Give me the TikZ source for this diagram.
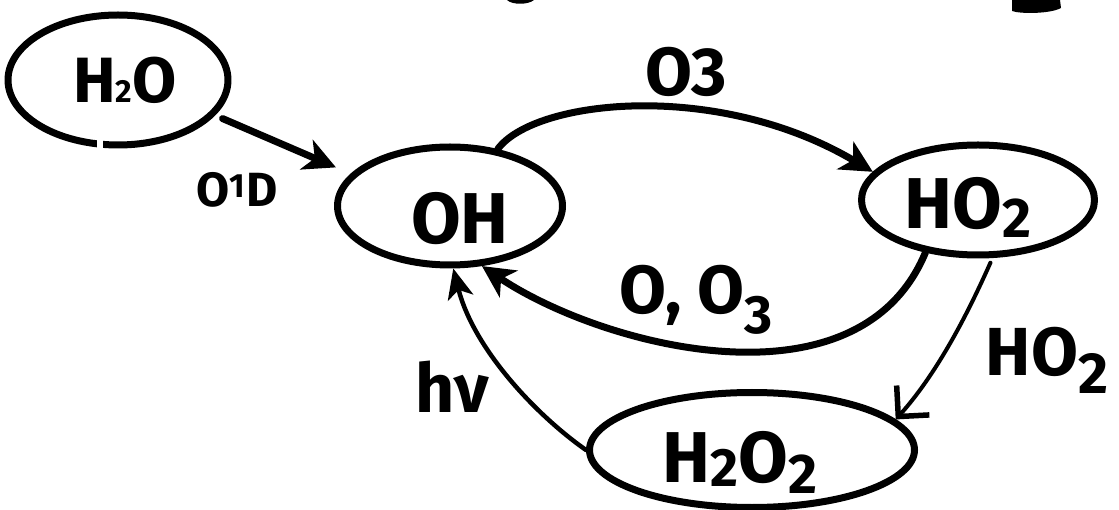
\documentclass[tikz,border=0pt]{standalone}
\usepackage{fontspec}
\setmainfont{Fira Sans}
\usetikzlibrary{shapes.geometric,arrows.meta}

% lowered, slightly reduced index for chemical formulas
\newcommand{\chemsub}[3]{\raisebox{-#2pt}{\fontsize{#1}{#1}\selectfont #3}}

\begin{document}
\begin{tikzpicture}[x=1pt,y=-1pt,line cap=round,line join=round,
  species/.style={draw, ellipse, line width=7pt, inner sep=0pt},
  formula/.style={inner sep=0pt, anchor=base, font=\bfseries\fontsize{72}{76}\selectfont},
  lbl/.style={inner sep=0pt, anchor=base, font=\bfseries\fontsize{68}{72}\selectfont},
  heavy arrow/.style={line width=7pt, -{Stealth[length=32pt,width=32pt,inset=9pt]}},
  light arrow/.style={line width=4.5pt, -{Stealth[length=30pt,width=26pt,inset=8pt]}},
  barb arrow/.style={line width=4pt, -{Straight Barb[length=22pt,width=44pt,line width=5.5pt]}}]

\fill[white] (0,0) rectangle (1119,510);
\useasboundingbox (0,0) rectangle (1119,510);

% species
\node[species, minimum width=220pt, minimum height=130pt] (h2o) at (118,80) {};
\node[species, minimum width=225pt, minimum height=118pt] (oh) at (450,206) {};
\node[species, minimum width=233pt, minimum height=110pt] (ho) at (978,200) {};
\node[species, minimum width=325pt, minimum height=115pt] (h2) at (752,450) {};

% pen lift in the water outline
\fill[white] (97,134) rectangle (103,153);

\node[formula, font=\bfseries\fontsize{64}{68}\selectfont] (h2o-t) at (125,103) {H\chemsub{32}{0}{2}O};
\node[formula] (oh-t) at (460,244) {OH};
\node[formula] (ho-t) at (968,229) {HO\chemsub{56}{9}{2}};
\node[formula] (h2-t) at (740,482) {H\chemsub{54}{4}{2}O\chemsub{56}{11}{2}};

% reactions
\draw[heavy arrow, shorten <=8pt, shorten >=16pt] (h2o.-20) -- (oh.162);
\draw[heavy arrow] (oh.50) .. controls +(37,-50) and +(-155,-92) .. (ho.165);
\draw[heavy arrow] (ho.225) .. controls +(-67,161) and +(121,81) .. (oh.-62);
\draw[barb arrow, shorten <=5pt] (ho.-76) .. controls +(-20,45) and +(45,-50) .. (h2.12);
\draw[light arrow] (h2.180) .. controls +(-50,-35) and +(20,80) .. (oh.-87);

% reactants and photolysis
\node[inner sep=0pt, anchor=base, font=\bfseries\fontsize{48}{52}\selectfont] (l-o1d) at (237,207) {O\textsuperscript{1}D};
\node[lbl] (l-o3) at (686,96) {O3};
\node[lbl] (l-oo3) at (696,314) {O, O\chemsub{54}{20}{3}};
\node[lbl] (l-ho2) at (1047,376) {HO\chemsub{58}{18}{2}};
\node[lbl] (l-hv) at (452,412) {hν};

% pen strokes along the top edge
\fill (1012,0) -- (1060,0) -- (1061,8) .. controls (1050,14) and (1020,14) .. (1012,11) -- cycle;
\fill (507,0) -- (534,0) .. controls (528,5) and (512,5) .. (507,0) -- cycle;
\end{tikzpicture}
\end{document}
